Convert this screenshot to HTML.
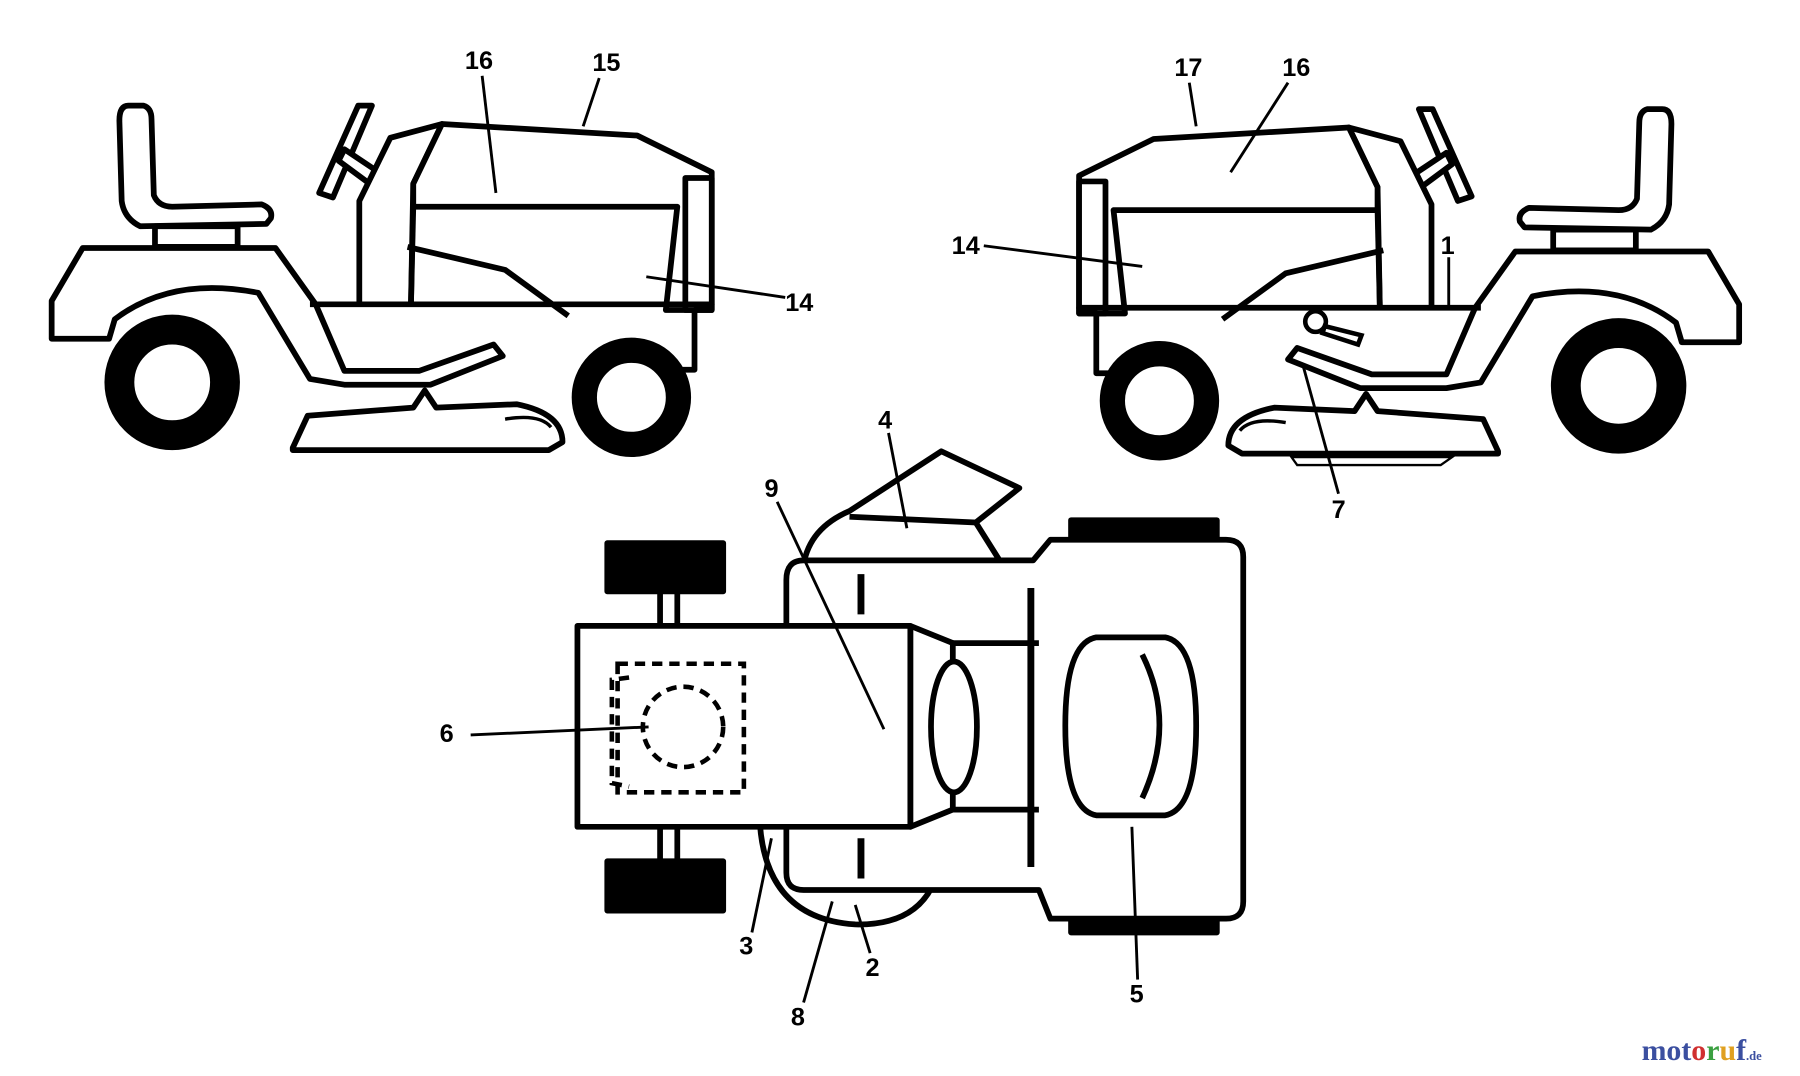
<!DOCTYPE html>
<html><head><meta charset="utf-8"><style>
html,body{margin:0;padding:0;background:#fff;}
svg{display:block;}
text{font-family:"Liberation Sans",sans-serif;font-weight:bold;font-size:22px;fill:#000;}
</style></head><body>
<svg width="1800" height="1076" viewBox="0 0 1568 937" preserveAspectRatio="none" xmlns="http://www.w3.org/2000/svg">
<defs>
<g id="tractor" fill="#fff" stroke="#000" stroke-width="5" stroke-linejoin="round">
  <!-- seat -->
  <path d="M112,92 L125,92 Q132,94 132,104 L134,170 Q138,180 150,180 L228,178 Q238,182 236,190 L232,195 L122,197 Q108,190 106,175 L104,105 Q104,92 112,92 Z"/>
  <rect x="135" y="197" width="72" height="18"/>
  <!-- rear body / fender -->
  <path d="M45,262 L72,216 L240,216 L275,265 L300,323 L365,323 L430,300 L438,310 L375,335 L300,335 L270,330 L225,255 Q150,240 100,278 L95,295 L45,295 Z"/>
  <!-- steering wheel -->
  <path d="M312,92 L324,92 L290,172 L278,168 Z"/>
  <path d="M300,130 L330,150 L322,160 L295,140 Z"/>
  <!-- dash -->
  <path d="M313,265 L313,175 L340,120 L385,108 L360,160 L358,265"/>
  <!-- hood -->
  <path d="M385,108 L555,118 L620,150 L620,270 L580,270 L590,180 L360,180 L360,160 Z"/>
  <rect x="597" y="155" width="23" height="115"/>
  <path d="M355,215 L440,235 L495,275" fill="none"/>
  <path d="M360,180 L358,265" fill="none"/>
  <!-- chassis -->
  <path d="M270,265 L620,265 L605,270 L605,322 L510,322" fill="none"/>
  <!-- deck -->
  <path d="M255,390 L268,362 L360,355 L370,340 L380,355 L450,352 Q490,360 490,385 L478,392 L255,392 Z"/>
  <path d="M440,365 Q470,360 480,372" fill="none" stroke-width="3"/>
  <!-- wheels -->
  <circle cx="150" cy="333" r="46" stroke-width="26"/>
  <circle cx="550" cy="346" r="41" stroke-width="22"/>
</g>
</defs>
<rect width="1568" height="937" fill="#fff"/>
<use href="#tractor"/>
<use href="#tractor" transform="translate(1560,3) scale(-1,1)"/>
<!-- right extras -->
<g fill="#fff" stroke="#000" stroke-width="4">
  <circle cx="1146" cy="280" r="9"/>
  <path d="M1154,284 L1186,292 L1183,300 L1152,290 Z"/>
  <path d="M1125,398 L1265,398 L1255,405 L1130,405 Z" stroke-width="2"/>
</g>
<!-- left labels -->
<g stroke="#000" stroke-width="2.5" fill="none">
  <line x1="420" y1="66" x2="432" y2="168"/>
  <line x1="522" y1="68" x2="508" y2="110"/>
  <line x1="684" y1="259" x2="563" y2="241"/>
  <line x1="1036" y1="72" x2="1042" y2="110"/>
  <line x1="1122" y1="72" x2="1072" y2="150"/>
  <line x1="857" y1="214" x2="995" y2="232"/>
  <line x1="1262" y1="224" x2="1262" y2="268"/>
  <line x1="1166" y1="430" x2="1135" y2="318"/>
</g>
<text x="405" y="60">16</text><text x="516" y="62">15</text><text x="684" y="271">14</text>
<text x="1023" y="66">17</text><text x="1117" y="66">16</text><text x="829" y="221">14</text>
<text x="1255" y="221">1</text><text x="1160" y="451">7</text>
<!-- top view -->
<g stroke="#000" stroke-width="5" fill="#fff" stroke-linejoin="round">
  <rect x="529" y="473" width="101" height="42" fill="#000"/>
  <rect x="529" y="750" width="101" height="43" fill="#000"/>
  <line x1="575" y1="515" x2="575" y2="545"/><line x1="590" y1="515" x2="590" y2="545"/>
  <line x1="575" y1="720" x2="575" y2="750"/><line x1="590" y1="720" x2="590" y2="750"/>
  <rect x="933" y="453" width="127" height="18" fill="#000"/>
  <rect x="933" y="798" width="127" height="14" fill="#000"/>
  <path d="M662,718 Q668,800 745,805 Q795,806 812,772" fill="none"/>
  <path d="M700,492 Q705,460 740,445 L820,393 L888,425 L850,455 L872,490" />
  <line x1="740" y1="450" x2="850" y2="455"/>
  <path d="M700,488 L900,488 L915,470 L1068,470 Q1083,470 1083,485 L1083,785 Q1083,800 1068,800 L915,800 L905,775 L700,775 Q685,775 685,760 L685,505 Q685,488 700,488 Z"/>
  <line x1="830" y1="560" x2="905" y2="560"/><line x1="830" y1="705" x2="905" y2="705"/>
  <line x1="898" y1="512" x2="898" y2="755" stroke-width="6"/>
  <line x1="750" y1="500" x2="750" y2="535" stroke-width="6"/>
  <line x1="750" y1="730" x2="750" y2="765" stroke-width="6"/>
  <path d="M793,545 L830,560 L830,705 L793,720 Z"/>
  <rect x="503" y="545" width="290" height="175"/>
  <ellipse cx="831" cy="633" rx="20" ry="57"/>
  <path d="M955,555 L1015,555 Q1042,560 1042,632 Q1042,705 1015,710 L955,710 Q928,705 928,632 Q928,560 955,555 Z"/>
  <path d="M995,570 Q1025,630 995,695" fill="none"/>
</g>
<g stroke="#000" stroke-width="4" fill="none" stroke-dasharray="9,6">
  <rect x="538" y="578" width="110" height="112"/>
  <circle cx="595" cy="633" r="35"/>
  <path d="M548,590 L533,592 L533,682 L548,685"/>
</g>
<g stroke="#000" stroke-width="2.5" fill="none">
  <line x1="774" y1="377" x2="790" y2="460"/>
  <line x1="677" y1="437" x2="770" y2="635"/>
  <line x1="410" y1="640" x2="565" y2="633"/>
  <line x1="655" y1="812" x2="672" y2="730"/>
  <line x1="758" y1="830" x2="745" y2="788"/>
  <line x1="700" y1="873" x2="725" y2="785"/>
  <line x1="991" y1="853" x2="986" y2="720"/>
</g>
<text x="765" y="373">4</text><text x="666" y="433">9</text><text x="383" y="646">6</text>
<text x="644" y="831">3</text><text x="754" y="850">2</text><text x="689" y="893">8</text><text x="984" y="873">5</text>
<text x="1430" y="923" style="font-family:'Liberation Serif',serif;font-size:26px;"><tspan fill="#3b4fa0">mot</tspan><tspan fill="#d03030">o</tspan><tspan fill="#3aa040">r</tspan><tspan fill="#e0a020">u</tspan><tspan fill="#3b4fa0">f</tspan><tspan style="font-size:11px" fill="#3b4fa0">.de</tspan></text>
</svg>
</body></html>
